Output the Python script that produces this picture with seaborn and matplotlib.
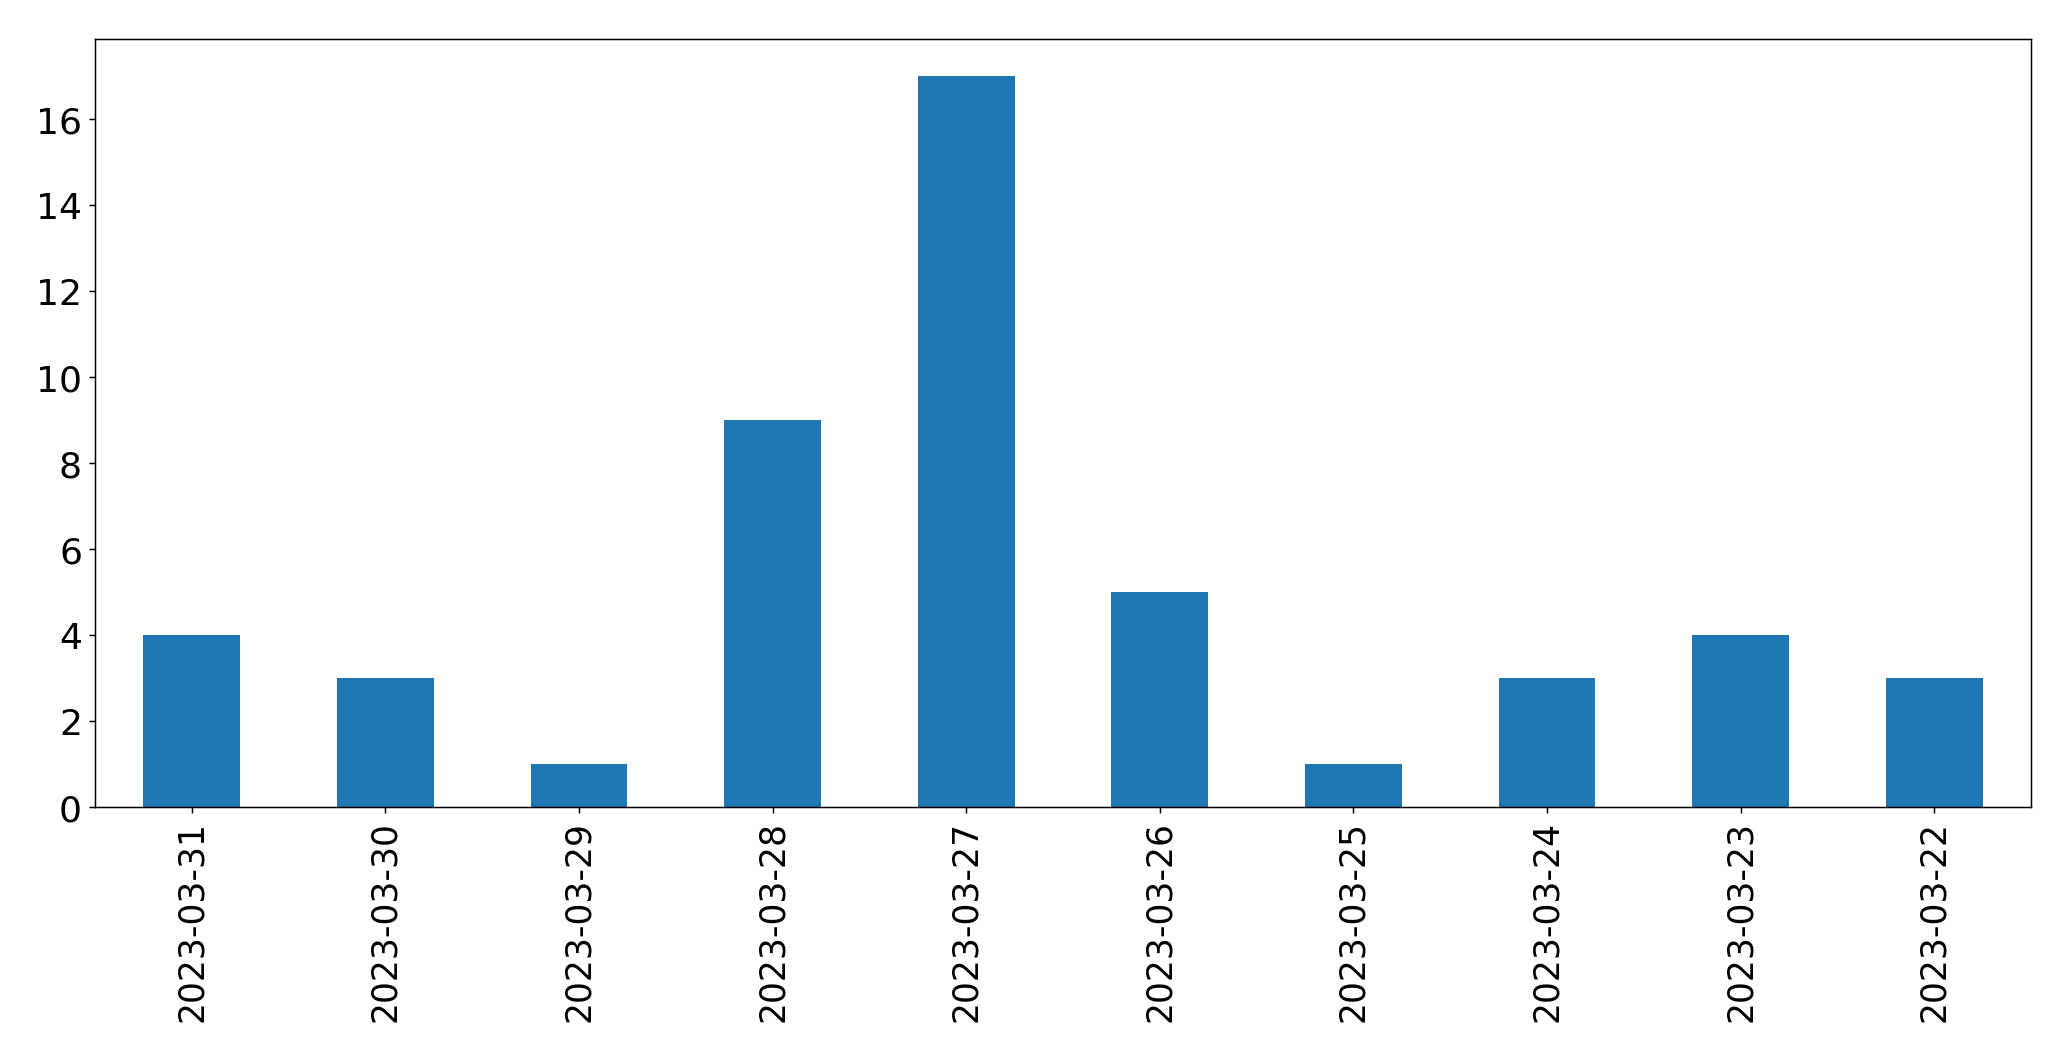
import matplotlib
matplotlib.use("Agg")
import matplotlib.pyplot as plt
import seaborn as sns
import pandas as pd

dates = ["2023-03-31", "2023-03-30", "2023-03-29", "2023-03-28", "2023-03-27",
         "2023-03-26", "2023-03-25", "2023-03-24", "2023-03-23", "2023-03-22"]
counts = [4, 3, 1, 9, 17, 5, 1, 3, 4, 3]

df = pd.DataFrame({"date": dates, "count": counts})

sns.set_style("ticks")
plt.rcParams["font.family"] = ["DejaVu Sans"]

fig = plt.figure(figsize=(15.5325, 7.9575), dpi=133.333)
ax = fig.add_axes([0.0459, 0.2385, 0.9348, 0.7238])

sns.barplot(data=df, x="date", y="count", order=dates, color="#1f77b4",
            saturation=1, width=0.5, ax=ax, errorbar=None, linewidth=0)

ax.set_xlim(-0.5, len(dates) - 0.5)
ax.set_ylim(0, max(counts) * 1.05)
ax.set_xlabel("")
ax.set_ylabel("")
ax.tick_params(axis="both", labelsize=19.5, colors="black", length=3.5, width=0.8)
ax.tick_params(axis="x", labelrotation=90, labelsize=18.7)
for s in ax.spines.values():
    s.set_visible(True)
    s.set_color("black")
    s.set_linewidth(0.8)

fig.savefig("out.png", dpi=133.333)
